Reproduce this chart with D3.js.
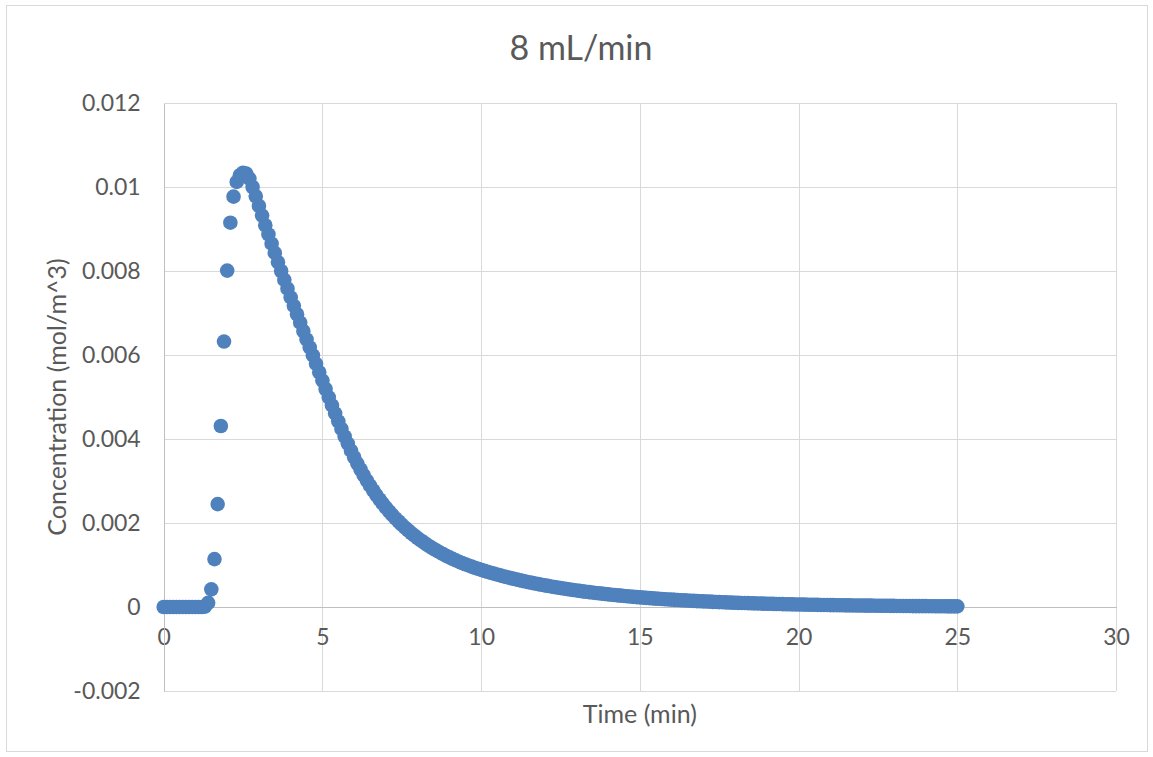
<!DOCTYPE html>
<html>
<head>
<meta charset="utf-8">
<script src="https://cdn.jsdelivr.net/npm/d3@7"></script>
<style>
  html, body { margin: 0; padding: 0; background: #ffffff; }
  svg { display: block; }
  text { font-family: Lato, "Open Sans", "Liberation Sans", sans-serif; fill: #595959; }
</style>
</head>
<body>
<svg id="chart" width="1153" height="757"></svg>
<script>
// Elapsed time (min), one reading every 0.1 min
const timeMin = [
  0.0, 0.1, 0.2, 0.3, 0.4, 0.5, 0.6, 0.7, 0.8, 0.9,
  1.0, 1.1, 1.2, 1.3, 1.4, 1.5, 1.6, 1.7, 1.8, 1.9,
  2.0, 2.1, 2.2, 2.3, 2.4, 2.5, 2.6, 2.7, 2.8, 2.9,
  3.0, 3.1, 3.2, 3.3, 3.4, 3.5, 3.6, 3.7, 3.8, 3.9,
  4.0, 4.1, 4.2, 4.3, 4.4, 4.5, 4.6, 4.7, 4.8, 4.9,
  5.0, 5.1, 5.2, 5.3, 5.4, 5.5, 5.6, 5.7, 5.8, 5.9,
  6.0, 6.1, 6.2, 6.3, 6.4, 6.5, 6.6, 6.7, 6.8, 6.9,
  7.0, 7.1, 7.2, 7.3, 7.4, 7.5, 7.6, 7.7, 7.8, 7.9,
  8.0, 8.1, 8.2, 8.3, 8.4, 8.5, 8.6, 8.7, 8.8, 8.9,
  9.0, 9.1, 9.2, 9.3, 9.4, 9.5, 9.6, 9.7, 9.8, 9.9,
  10.0, 10.1, 10.2, 10.3, 10.4, 10.5, 10.6, 10.7, 10.8, 10.9,
  11.0, 11.1, 11.2, 11.3, 11.4, 11.5, 11.6, 11.7, 11.8, 11.9,
  12.0, 12.1, 12.2, 12.3, 12.4, 12.5, 12.6, 12.7, 12.8, 12.9,
  13.0, 13.1, 13.2, 13.3, 13.4, 13.5, 13.6, 13.7, 13.8, 13.9,
  14.0, 14.1, 14.2, 14.3, 14.4, 14.5, 14.6, 14.7, 14.8, 14.9,
  15.0, 15.1, 15.2, 15.3, 15.4, 15.5, 15.6, 15.7, 15.8, 15.9,
  16.0, 16.1, 16.2, 16.3, 16.4, 16.5, 16.6, 16.7, 16.8, 16.9,
  17.0, 17.1, 17.2, 17.3, 17.4, 17.5, 17.6, 17.7, 17.8, 17.9,
  18.0, 18.1, 18.2, 18.3, 18.4, 18.5, 18.6, 18.7, 18.8, 18.9,
  19.0, 19.1, 19.2, 19.3, 19.4, 19.5, 19.6, 19.7, 19.8, 19.9,
  20.0, 20.1, 20.2, 20.3, 20.4, 20.5, 20.6, 20.7, 20.8, 20.9,
  21.0, 21.1, 21.2, 21.3, 21.4, 21.5, 21.6, 21.7, 21.8, 21.9,
  22.0, 22.1, 22.2, 22.3, 22.4, 22.5, 22.6, 22.7, 22.8, 22.9,
  23.0, 23.1, 23.2, 23.3, 23.4, 23.5, 23.6, 23.7, 23.8, 23.9,
  24.0, 24.1, 24.2, 24.3, 24.4, 24.5, 24.6, 24.7, 24.8, 24.9,
  25.0
];

// Outlet concentration (mol/m^3) at each time above
const concentration = [
  0, 0, 0, 0, 0, 0, 0, 0, 0, 0,
  0, 0, 0, 0.00001, 0.0001, 0.00042, 0.00114, 0.00245, 0.00431, 0.00632,
  0.00801, 0.00915, 0.00977, 0.01012, 0.01028, 0.01034, 0.01032, 0.01020, 0.01000, 0.00978,
  0.00955, 0.00932, 0.00909, 0.00887, 0.00865, 0.00843, 0.00821, 0.00800, 0.00779, 0.00758,
  0.00737, 0.00717, 0.00697, 0.00677, 0.00657, 0.00637, 0.00618, 0.00599, 0.00579, 0.00559,
  0.00539, 0.00519, 0.00499, 0.00480, 0.00461, 0.00442, 0.00424, 0.00406, 0.00389, 0.003723,
  0.003565, 0.003415, 0.003273, 0.003138, 0.003010, 0.002889, 0.002774, 0.002664, 0.002560, 0.002461,
  0.002367, 0.002278, 0.002193, 0.002112, 0.002035, 0.001961, 0.001891, 0.001824, 0.001760, 0.001699,
  0.001641, 0.001585, 0.001532, 0.001481, 0.001432, 0.001386, 0.001342, 0.001299, 0.001258, 0.001219,
  0.001182, 0.001146, 0.001112, 0.001079, 0.001048, 0.001018, 0.000989, 0.000961, 0.000935, 0.000909,
  0.000885, 0.000861, 0.000838, 0.000816, 0.000794, 0.000773, 0.000753, 0.000733, 0.000713, 0.000694,
  0.000676, 0.000658, 0.000640, 0.000623, 0.000607, 0.000590, 0.000575, 0.000559, 0.000544, 0.000530,
  0.000516, 0.000502, 0.000489, 0.000476, 0.000463, 0.000451, 0.000439, 0.000427, 0.000416, 0.000405,
  0.000394, 0.000383, 0.000373, 0.000363, 0.000354, 0.000344, 0.000335, 0.000326, 0.000318, 0.000309,
  0.000301, 0.000293, 0.000285, 0.000277, 0.000270, 0.000263, 0.000256, 0.000249, 0.000242, 0.000236,
  0.000230, 0.000223, 0.000217, 0.000212, 0.000206, 0.000200, 0.000195, 0.000190, 0.000185, 0.000180,
  0.000175, 0.000170, 0.000166, 0.000161, 0.000157, 0.000153, 0.000149, 0.000145, 0.000141, 0.000137,
  0.000134, 0.000130, 0.000127, 0.000123, 0.000120, 0.000117, 0.000114, 0.000111, 0.000108, 0.000105,
  0.000102, 0.000099, 0.000097, 0.000094, 0.000092, 0.000089, 0.000087, 0.000085, 0.000082, 0.000080,
  0.000078, 0.000076, 0.000074, 0.000072, 0.000070, 0.000068, 0.000066, 0.000064, 0.000063, 0.000061,
  0.000059, 0.000058, 0.000056, 0.000055, 0.000053, 0.000052, 0.000050, 0.000049, 0.000048, 0.000046,
  0.000045, 0.000044, 0.000043, 0.000042, 0.000040, 0.000039, 0.000038, 0.000037, 0.000036, 0.000035,
  0.000034, 0.000033, 0.000032, 0.000032, 0.000031, 0.000030, 0.000029, 0.000028, 0.000028, 0.000027,
  0.000026, 0.000025, 0.000025, 0.000024, 0.000023, 0.000023, 0.000022, 0.000022, 0.000021, 0.000020,
  0.000020, 0.000019, 0.000019, 0.000018, 0.000018, 0.000017, 0.000017, 0.000016, 0.000016, 0.000015,
  0.000015
];

const xTickValues = [0, 5, 10, 15, 20, 25, 30];
const xTickLabels = ["0", "5", "10", "15", "20", "25", "30"];
const yTickValues = [-0.002, 0, 0.002, 0.004, 0.006, 0.008, 0.01, 0.012];
const yTickLabels = ["-0.002", "0", "0.002", "0.004", "0.006", "0.008", "0.01", "0.012"];

const chartTitle = "8 mL/min";
const xTitle = "Time (min)";
const yTitle = "Concentration (mol/m^3)";

const points = timeMin.map((t, i) => ({ t, c: concentration[i] }));

const svg = d3.select("#chart");
const plot = { left: 163.7, right: 1116, top: 103, bottom: 691 };

const x = d3.scaleLinear().domain([0, 30]).range([plot.left, plot.right]);
const y = d3.scaleLinear().domain([-0.002, 0.012]).range([plot.bottom, plot.top]);

// chart frame
svg.append("rect")
  .attr("x", 6.5).attr("y", 5.5)
  .attr("width", 1141).attr("height", 746)
  .attr("fill", "#ffffff")
  .attr("stroke", "#d9d9d9").attr("stroke-width", 1);

// gridlines
const gridX = svg.append("g")
  .attr("transform", `translate(0,${plot.bottom})`)
  .call(d3.axisBottom(x).tickValues(xTickValues).tickSize(-(plot.bottom - plot.top)).tickFormat(""));
const gridY = svg.append("g")
  .attr("transform", `translate(${plot.left},0)`)
  .call(d3.axisLeft(y).tickValues(yTickValues).tickSize(-(plot.right - plot.left)).tickFormat(""));
[gridX, gridY].forEach(g => {
  g.select(".domain").remove();
  g.selectAll(".tick line").attr("stroke", "#d9d9d9").attr("stroke-width", 1)
    .attr("shape-rendering", "crispEdges");
});

// axis lines and labels
const xAxis = svg.append("g")
  .attr("transform", `translate(0,${y(0)})`)
  .call(d3.axisBottom(x).tickValues(xTickValues).tickSize(0).tickPadding(22)
    .tickFormat((d, i) => xTickLabels[i]));
xAxis.select(".domain").attr("stroke", "#bfbfbf").attr("stroke-width", 1)
  .attr("shape-rendering", "crispEdges");

const yAxis = svg.append("g")
  .attr("transform", `translate(${plot.left},0)`)
  .call(d3.axisLeft(y).tickValues(yTickValues).tickSize(0).tickPadding(23)
    .tickFormat((d, i) => yTickLabels[i]));
yAxis.select(".domain").attr("stroke", "#bfbfbf").attr("stroke-width", 1)
  .attr("shape-rendering", "crispEdges");

[xAxis, yAxis].forEach(g => {
  g.selectAll(".tick text")
    .attr("font-family", "Lato, 'Open Sans', sans-serif")
    .attr("font-size", 23)
    .attr("fill", "#595959");
});

// data markers
svg.append("g")
  .selectAll("circle")
  .data(points)
  .join("circle")
  .attr("cx", d => x(d.t))
  .attr("cy", d => y(d.c))
  .attr("r", 7.3)
  .attr("fill", "#4f81bd");

// titles
svg.append("text")
  .attr("x", 581).attr("y", 60)
  .attr("text-anchor", "middle")
  .attr("font-size", 34)
  .text(chartTitle);

svg.append("text")
  .attr("x", (plot.left + plot.right) / 2).attr("y", 723)
  .attr("text-anchor", "middle")
  .attr("font-size", 25)
  .text(xTitle);

svg.append("text")
  .attr("transform", `translate(66,${(plot.top + plot.bottom) / 2}) rotate(-90)`)
  .attr("text-anchor", "middle")
  .attr("font-size", 25)
  .text(yTitle);
</script>
</body>
</html>
